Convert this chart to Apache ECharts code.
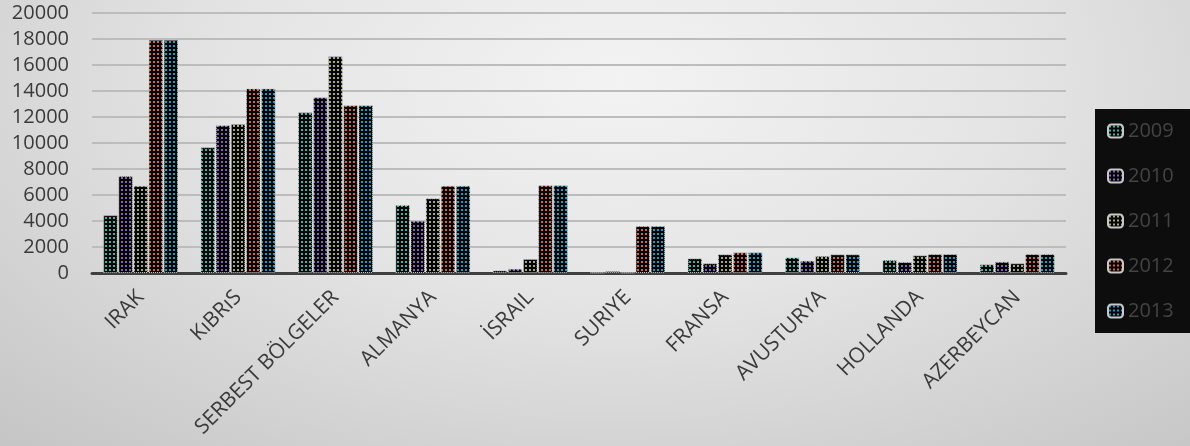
<!DOCTYPE html>
<html>
<head>
<meta charset="utf-8">
<script src="https://cdn.jsdelivr.net/npm/echarts@6/dist/echarts.min.js"></script>
<style>
html,body{margin:0;padding:0;}
body{width:1190px;height:446px;background:radial-gradient(ellipse 75% 110% at 52% 18%, #f3f3f3 0%, #e4e4e4 45%, #c6c6c6 100%);}
#c{width:1190px;height:446px;}
</style>
</head>
<body>
<div id="c"></div>
<script>
const categories = ['IRAK','KıBRıS','SERBEST BÖLGELER','ALMANYA','İSRAIL','SURIYE','FRANSA','AVUSTURYA','HOLLANDA','AZERBEYCAN'];
const years = ['2009','2010','2011','2012','2013'];
const v2009 = [4450, 9670, 12360, 5230, 200, 30, 1130, 1200, 1000, 670];
const v2010 = [7460, 11360, 13520, 4020, 330, 150, 750, 950, 850, 870];
const v2011 = [6720, 11460, 16670, 5750, 1080, 30, 1440, 1310, 1360, 750];
const v2012 = [17950, 14200, 12900, 6720, 6750, 3620, 1590, 1440, 1460, 1460];
const v2013 = [17950, 14200, 12900, 6720, 6750, 3620, 1590, 1440, 1460, 1460];
const seriesValues = [v2009, v2010, v2011, v2012, v2013];
const dotColors = ['#3fb3a6', '#8262b4', '#a3aa7a', '#d2663e', '#1a9cc4'];
const yTicks = {min: 0, max: 20000, interval: 2000};

function makePattern(col) {
  const c = document.createElement('canvas');
  c.width = 4; c.height = 4;
  const g = c.getContext('2d');
  g.fillStyle = '#050505';
  g.fillRect(0, 0, 4, 4);
  g.fillStyle = col;
  g.fillRect(1, 1, 2, 2);
  return c;
}

const chart = echarts.init(document.getElementById('c'), null, {renderer: 'canvas'});
const series = years.map((y, i) => ({
  name: y,
  type: 'bar',
  data: seriesValues[i],
  barGap: '4%',
  barCategoryGap: '23%',
  itemStyle: {
    color: {image: makePattern(dotColors[i]), repeat: 'repeat'},
    borderColor: '#c8c8c8',
    borderWidth: 1,
    borderType: 'dotted'
  },
  emphasis: {disabled: true}
}));

chart.setOption({
  backgroundColor: 'transparent',
  animation: false,
  grid: {left: 92, right: 124, top: 13, bottom: 173, containLabel: false},
  xAxis: {
    type: 'category',
    data: categories,
    axisTick: {show: false},
    axisLine: {lineStyle: {color: '#404040', width: 3}},
    axisLabel: {
      rotate: 45,
      interval: 0,
      margin: 21,
      color: '#3a3a3a',
      fontFamily: 'Open Sans',
      fontSize: 21
    }
  },
  yAxis: {
    type: 'value',
    min: yTicks.min,
    max: yTicks.max,
    interval: yTicks.interval,
    axisLine: {show: false},
    axisTick: {show: false},
    axisLabel: {
      margin: 23,
      color: '#3a3a3a',
      fontFamily: 'Open Sans',
      fontSize: 20,
      formatter: v => String(v)
    },
    splitLine: {lineStyle: {color: '#bcbcbc', width: 2}}
  },
  legend: {
    orient: 'vertical',
    left: 1095,
    top: 109,
    backgroundColor: '#0d0d0d',
    borderWidth: 0,
    padding: [12, 20, 12, 12],
    itemWidth: 15,
    itemHeight: 13,
    itemGap: 25,
    textStyle: {color: '#444444', fontFamily: 'Open Sans', fontSize: 20, lineHeight: 20},
    data: years
  },
  series: series
});
</script>
</body>
</html>
